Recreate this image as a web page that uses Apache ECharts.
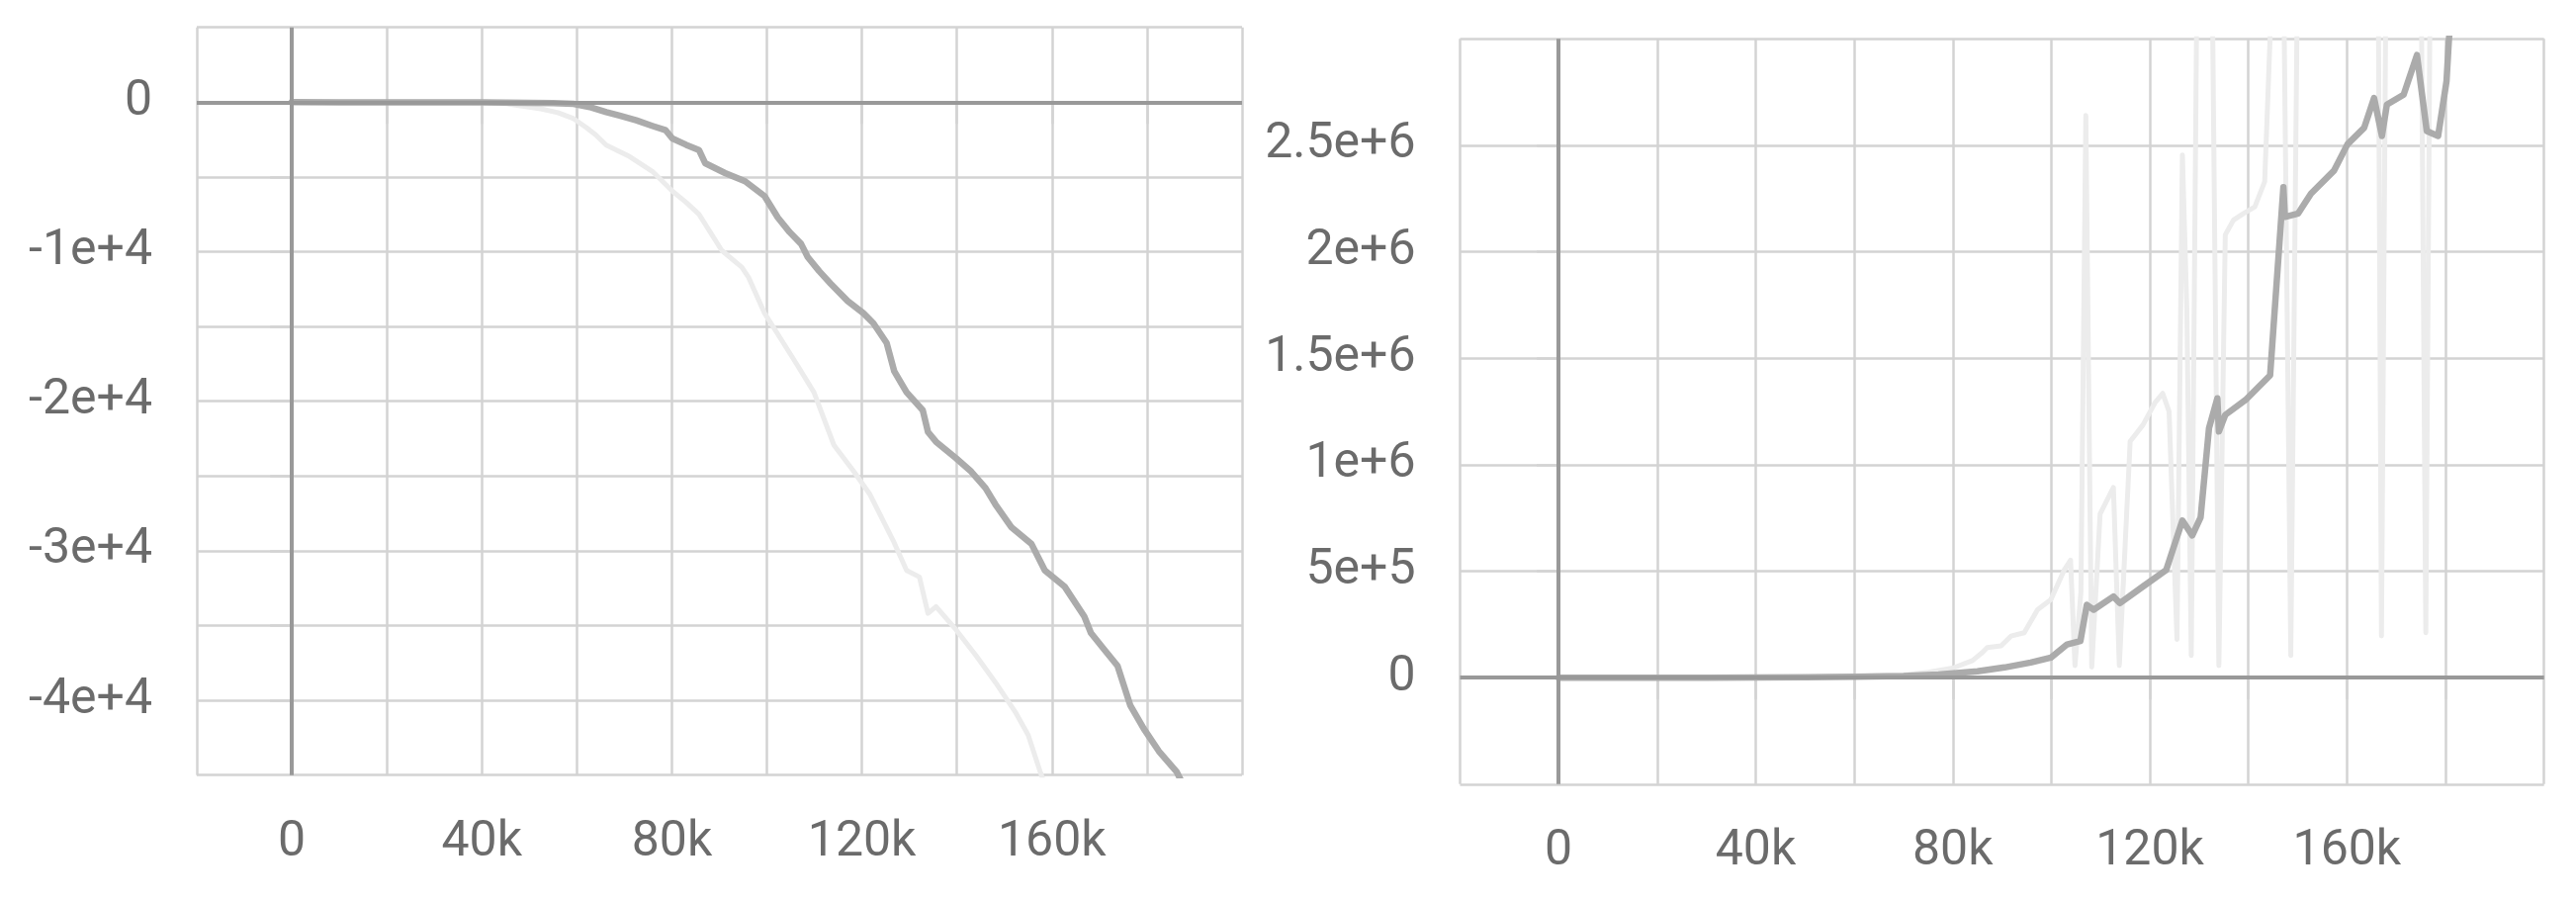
<!DOCTYPE html>
<html>
<head>
<meta charset="utf-8">
<script src="https://cdn.jsdelivr.net/npm/echarts@6/dist/echarts.min.js"></script>
<style>
  html, body { margin: 0; padding: 0; background: #fff; }
  #container { width: 2605px; height: 912px; }
</style>
</head>
<body>
<div id="container"></div>
<script>
// left panel, steps in thousands
let leftSmoothSteps = [0, 10, 20, 30, 40, 50, 55, 59.3, 63, 66.2, 69, 72.5, 76, 78.7, 80.1, 83, 85.7, 87, 91.2, 95.4, 99.5, 102.3, 104.8, 107.2, 108.6, 111, 113.4, 117, 120.3, 122.4, 125.2, 126.8, 129.4, 132.8, 133.9, 135.6, 139.8, 143, 146, 148.1, 151.5, 155.7, 158.5, 162.7, 166.8, 168.2, 171, 173.8, 176.5, 179.3, 182.5, 186.2, 189];
let leftSmoothValues = [0, -5, -10, -15, -20, -40, -60, -112, -350, -660, -900, -1215, -1600, -1877, -2427, -2850, -3200, -4080, -4740, -5290, -6280, -7720, -8700, -9480, -10360, -11300, -12130, -13300, -14110, -14780, -16100, -18000, -19400, -20600, -22050, -22710, -23810, -24700, -25800, -26900, -28440, -29550, -31310, -32410, -34390, -35500, -36600, -37700, -40350, -41890, -43400, -44760, -46500];

let leftRawSteps = [0, 10, 20, 30, 40, 45, 52.4, 56, 59.3, 62, 64, 66.2, 71.1, 75.9, 80.1, 83, 85.7, 90.5, 94.7, 96.1, 99.5, 103, 106.5, 109.9, 114.1, 118.3, 121.7, 126.6, 129.4, 132.1, 133.9, 135.6, 139.8, 144, 148.1, 152.3, 155, 157.5, 159.5];
let leftRawValues = [0, -5, -10, -15, -30, -100, -440, -700, -1100, -1700, -2200, -2870, -3640, -4630, -5950, -6700, -7500, -9920, -11030, -11690, -14110, -15870, -17640, -19400, -22930, -24700, -26240, -29330, -31310, -31750, -34180, -33730, -35280, -37000, -38800, -40790, -42330, -44760, -46500];

// right panel
let rightSmoothSteps = [0, 10, 20, 30, 40, 50, 60, 70, 77.1, 85, 90.5, 95.8, 99.9, 103.2, 105.9, 107.2, 108.6, 112.6, 113.9, 118.6, 123.3, 126.6, 128.6, 130.3, 132, 133.7, 134, 135.3, 139.4, 144.4, 147.1, 147.4, 150.1, 152.7, 157.4, 160.1, 163.5, 165.5, 167.1, 168.1, 171.5, 174.2, 176.2, 178.5, 180.2, 180.7, 181.5];
let rightSmoothValues = [0, 0, 0, 0, 1000, 2000, 4000, 8000, 15000, 30000, 48000, 71000, 94000, 156000, 172000, 342000, 319000, 381000, 350000, 428000, 505000, 738000, 668000, 753000, 1172000, 1312000, 1156000, 1234000, 1304000, 1420000, 2304000, 2164000, 2180000, 2273000, 2382000, 2505000, 2583000, 2722000, 2544000, 2691000, 2738000, 2924000, 2567000, 2544000, 2800000, 3000000, 3200000];

let rightRawSteps = [0, 10, 20, 30, 40, 50, 60, 70, 75, 80, 84, 86, 87, 89.8, 91.8, 94.5, 97.2, 99.9, 102.6, 103.9, 104.8, 106, 107, 108.2, 109.9, 112.6, 113.8, 116, 118.6, 121, 122.6, 123.9, 125.5, 126.6, 127.5, 128.4, 129.6, 131, 132.6, 134, 135.3, 137, 139, 141.3, 143.3, 145.2, 147, 148.6, 150, 152, 156, 160, 164, 166.3, 167, 168, 172, 175, 176, 177, 180, 182];
let rightRawValues = [0, 0, 0, 0, 1000, 3000, 6000, 12000, 25000, 45000, 80000, 118000, 141000, 149000, 195000, 211000, 319000, 366000, 505000, 552000, 57000, 400000, 2640000, 50000, 769000, 893000, 57000, 1110000, 1187000, 1290000, 1335000, 1250000, 180000, 2455000, 1730000, 104000, 3400000, 3500000, 3400000, 57000, 2080000, 2150000, 2180000, 2211000, 2330000, 3500000, 3600000, 104000, 3400000, 3600000, 3700000, 3700000, 3800000, 3500000, 196000, 3600000, 3800000, 3500000, 211000, 3700000, 3900000, 4000000];

function pairs(steps, values) {
    return steps.map((s, i) => [s * 1000, values[i]]);
}

var dom = document.getElementById('container');
var myChart = echarts.init(dom, null, { renderer: 'canvas' });

let gridColor = '#d3d3d3';
let textStyle = { color: '#6b6b6b', fontSize: 50, fontFamily: 'Roboto' };

function stepAxis(gridIndex) {
    return {
        type: 'value', gridIndex: gridIndex,
        min: -20000, max: 200000, interval: 20000,
        axisLine: { show: false },
        axisTick: { show: true, length: 22, lineStyle: { color: gridColor, width: 2.5 } },
        splitLine: { show: true, lineStyle: { color: gridColor, width: 2.5 } },
        axisLabel: Object.assign({
            margin: 44, showMaxLabel: false, showMinLabel: false,
            formatter: v => v === 0 ? '0' : (v % 40000 === 0 ? (v / 1000) + 'k' : '')
        }, textStyle)
    };
}

function valueAxis(gridIndex, min, max, interval, labelEvery) {
    return {
        type: 'value', gridIndex: gridIndex,
        min: min, max: max, interval: interval,
        axisLine: { show: false },
        axisTick: { show: true, length: 22, lineStyle: { color: gridColor, width: 2.5 } },
        splitLine: { show: true, lineStyle: { color: gridColor, width: 2.5 } },
        axisLabel: Object.assign({
            margin: 45, showMaxLabel: false, showMinLabel: false,
            padding: [5, 0, 0, 0],
            formatter: v => v === 0 ? '0' : (v % labelEvery === 0 ? v.toExponential() : '')
        }, textStyle)
    };
}

let zeroLines = {
    silent: true, symbol: 'none',
    label: { show: false },
    lineStyle: { color: '#999999', width: 4, type: 'solid' },
    data: [{ xAxis: 0 }, { yAxis: 0 }]
};

function rawSeries(idx, data) {
    return {
        type: 'line', xAxisIndex: idx, yAxisIndex: idx, data: data,
        showSymbol: false, animation: false,
        lineStyle: { color: '#ececec', width: 5, join: 'round', cap: 'round' },
        markLine: zeroLines
    };
}

function smoothSeries(idx, data) {
    return {
        type: 'line', xAxisIndex: idx, yAxisIndex: idx, data: data,
        showSymbol: false, animation: false,
        lineStyle: { color: '#ababab', width: 6.5, join: 'round', cap: 'round' }
    };
}

var option = {
    backgroundColor: '#fff',
    grid: [
        { left: 199, right: 1349, top: 27.7, bottom: 128.3, outerBoundsMode: 'none' },
        { left: 1476.5, right: 32.3, top: 39.3, bottom: 119.2, outerBoundsMode: 'none' }
    ],
    xAxis: [stepAxis(0), stepAxis(1)],
    yAxis: [
        valueAxis(0, -45000, 5000, 5000, 10000),
        valueAxis(1, -500000, 3000000, 500000, 500000)
    ],
    series: [
        rawSeries(0, pairs(leftRawSteps, leftRawValues)),
        smoothSeries(0, pairs(leftSmoothSteps, leftSmoothValues)),
        rawSeries(1, pairs(rightRawSteps, rightRawValues)),
        smoothSeries(1, pairs(rightSmoothSteps, rightSmoothValues))
    ]
};

myChart.setOption(option);
window.addEventListener('resize', myChart.resize);
</script>
</body>
</html>
